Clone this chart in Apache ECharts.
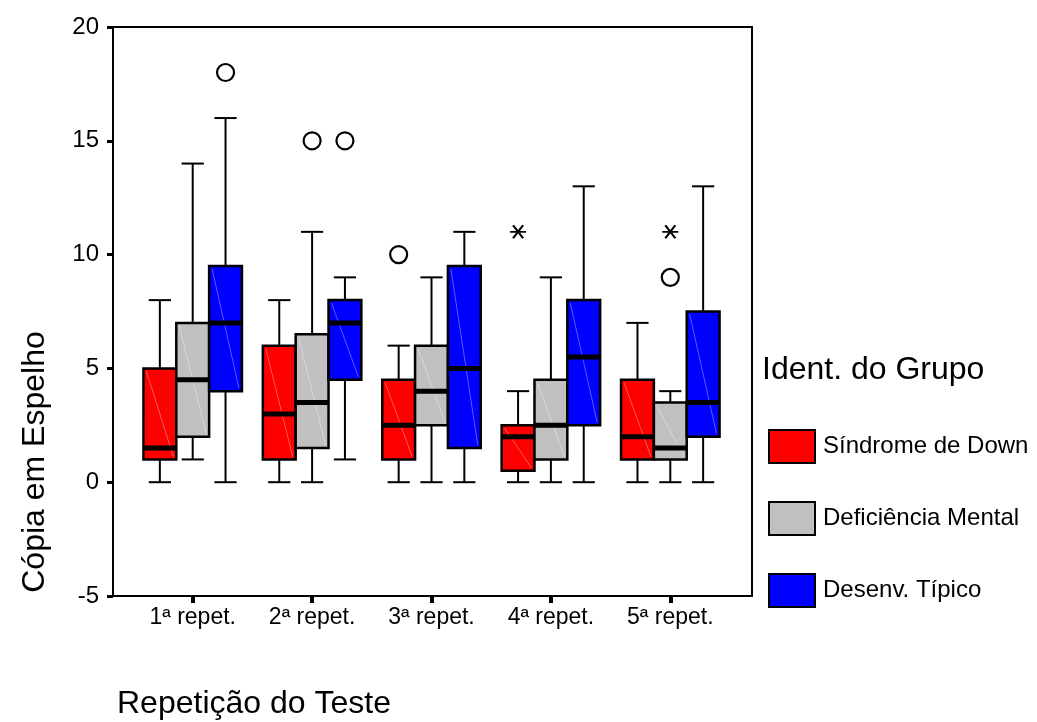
<!DOCTYPE html>
<html>
<head>
<meta charset="utf-8" />
<script src="https://cdn.jsdelivr.net/npm/echarts@6/dist/echarts.min.js"></script>
<style>
  html, body { margin: 0; padding: 0; background: #fff; }
  #main { width: 1037px; height: 722px; }
</style>
</head>
<body>
<div id="main"></div>
<script>
// categorias e grupos
const categories = ["1ª repet.", "2ª repet.", "3ª repet.", "4ª repet.", "5ª repet."];
const groups = ["Síndrome de Down", "Deficiência Mental", "Desenv. Típico"];
const groupColors = ["#ff0000", "#c0c0c0", "#0000ff"];
const yTicks = [-5, 0, 5, 10, 15, 20];

// [min, Q1, mediana, Q3, max] por repetição
const sdBoxes = [[0, 1, 1.5, 5, 8], [0, 1, 3, 6, 8], [0, 1, 2.5, 4.5, 6], [0, 0.5, 2, 2.5, 4], [0, 1, 2, 4.5, 7]];
const dmBoxes = [[1, 2, 4.5, 7, 14], [0, 1.5, 3.5, 6.5, 11], [0, 2.5, 4, 6, 9], [0, 1, 2.5, 4.5, 9], [0, 1, 1.5, 3.5, 4]];
const dtBoxes = [[0, 4, 7, 9.5, 16], [1, 4.5, 7, 8, 9], [0, 1.5, 5, 9.5, 11], [0, 2.5, 5.5, 8, 13], [0, 2, 3.5, 7.5, 13]];

// outliers (o) e extremos (*): [repetição, valor]
const sdOutliers = [[2, 10]];
const dmOutliers = [[1, 15], [4, 9]];
const dtOutliers = [[0, 18], [1, 15]];
const sdExtremes = [[3, 11]];
const dmExtremes = [[4, 11]];
const dtExtremes = [];

const boxesByGroup = [sdBoxes, dmBoxes, dtBoxes];
const outliersByGroup = [sdOutliers, dmOutliers, dtOutliers];
const extremesByGroup = [sdExtremes, dmExtremes, dtExtremes];

const STEP = 0.275; // largura da caixa em fração da banda
const FONT = "Liberation Sans, Arial, sans-serif";
const starPath = "path://M0 6 L16 6 M3 0 L13 12 M3 12 L13 0";

function renderBox(g) {
  return function (params, api) {
    const i = api.value(0);
    const band = api.size([1, 0])[0];
    const w = band * STEP;
    const x = api.coord([i, 0])[0] + (g - 1) * w;
    const y = (d) => api.coord([i, api.value(d)])[1];
    const half = w / 2;
    const cap = band * 0.093;
    const line = { stroke: "#000", lineWidth: 2 };
    return {
      type: "group",
      children: [
        { type: "line", shape: { x1: x, y1: y(1), x2: x, y2: y(2) }, style: line },
        { type: "line", shape: { x1: x, y1: y(4), x2: x, y2: y(5) }, style: line },
        { type: "line", shape: { x1: x - cap, y1: y(1), x2: x + cap, y2: y(1) }, style: line },
        { type: "line", shape: { x1: x - cap, y1: y(5), x2: x + cap, y2: y(5) }, style: line },
        {
          type: "rect",
          shape: { x: x - half, y: y(4), width: w, height: y(2) - y(4) },
          style: { fill: groupColors[g], stroke: "#000", lineWidth: 2.5 },
        },
        // risco diagonal claro do preenchimento
        {
          type: "line",
          shape: { x1: x - half + 3, y1: y(4) + 3, x2: x + half - 3, y2: y(2) - 3 },
          style: { stroke: "rgba(255,255,255,0.35)", lineWidth: 1 },
        },
        {
          type: "line",
          shape: { x1: x - half, y1: y(3), x2: x + half, y2: y(3) },
          style: { stroke: "#000", lineWidth: 5 },
        },
      ],
    };
  };
}

const series = [];
groups.forEach((name, g) => {
  series.push({
    name: name,
    type: "custom",
    xAxisIndex: 1,
    yAxisIndex: 1,
    itemStyle: { color: groupColors[g] },
    renderItem: renderBox(g),
    encode: { x: 0, y: [1, 2, 3, 4, 5] },
    data: boxesByGroup[g].map((b, i) => [i].concat(b)),
  });
});
groups.forEach((name, g) => {
  const offset = (g - 1) * 119.4 * STEP;
  series.push({
    name: "o " + name,
    type: "scatter",
    xAxisIndex: 1,
    yAxisIndex: 1,
    symbol: "circle",
    symbolSize: 17,
    symbolOffset: [offset, 0],
    itemStyle: { color: "#fff", borderColor: "#000", borderWidth: 2.2, opacity: 1 },
    z: 5,
    data: outliersByGroup[g],
  });
  series.push({
    name: "* " + name,
    type: "scatter",
    xAxisIndex: 1,
    yAxisIndex: 1,
    symbol: starPath,
    symbolSize: [16, 13],
    symbolOffset: [offset, 0],
    itemStyle: { color: "transparent", borderColor: "#000", borderWidth: 2, opacity: 1 },
    z: 5,
    data: extremesByGroup[g],
  });
});

const chart = echarts.init(document.getElementById("main"));
chart.setOption({
  animation: false,
  backgroundColor: "#fff",
  textStyle: { fontFamily: FONT },
  title: {
    text: "Ident. do Grupo",
    left: 762,
    top: 354,
    padding: 0,
    textStyle: { fontSize: 32, fontWeight: "normal", color: "#000", fontFamily: FONT },
  },
  legend: {
    orient: "vertical",
    left: 768,
    top: 429,
    itemWidth: 46,
    itemHeight: 33,
    itemGap: 37,
    padding: 0,
    selectedMode: false,
    icon: "rect",
    textStyle: { fontSize: 24, color: "#000", fontFamily: FONT, padding: [0, 0, 0, 3] },
    data: groups.map((name, g) => ({
      name: name,
      itemStyle: { color: groupColors[g], borderColor: "#000", borderWidth: 2 },
    })),
  },
  grid: [
    { left: 113, top: 27, width: 639, height: 569, show: true, borderColor: "#000", borderWidth: 2, backgroundColor: "transparent" },
    { left: 133, top: 27, width: 597, height: 569 },
  ],
  xAxis: [
    { gridIndex: 0, type: "value", min: 0, max: 1, show: false },
    {
      gridIndex: 1,
      type: "category",
      data: categories,
      axisLine: { show: false, onZero: false },
      axisTick: { show: true, alignWithLabel: true, length: 7, lineStyle: { color: "#000", width: 4 } },
      axisLabel: { fontSize: 23, color: "#000", margin: 10, fontFamily: FONT },
      splitLine: { show: false },
    },
  ],
  yAxis: [
    {
      gridIndex: 0,
      type: "value",
      min: yTicks[0],
      max: yTicks[yTicks.length - 1],
      interval: 5,
      axisLine: { show: true, lineStyle: { color: "#000", width: 2 } },
      axisTick: { show: true, length: 6, lineStyle: { color: "#000", width: 3 } },
      axisLabel: { fontSize: 24, color: "#000", margin: 14, fontFamily: FONT },
      splitLine: { show: false },
    },
    { gridIndex: 1, type: "value", min: -5, max: 20, show: false },
  ],
  graphic: [
    {
      type: "text",
      x: 35,
      y: 462,
      rotation: Math.PI / 2,
      style: {
        text: "Cópia em Espelho",
        fontSize: 32,
        fill: "#000",
        fontFamily: FONT,
        align: "center",
        verticalAlign: "middle",
      },
    },
    {
      type: "text",
      left: 117,
      top: 688,
      style: { text: "Repetição do Teste", fontSize: 32, fill: "#000", fontFamily: FONT },
    },
  ],
  series: series,
});
</script>
</body>
</html>
